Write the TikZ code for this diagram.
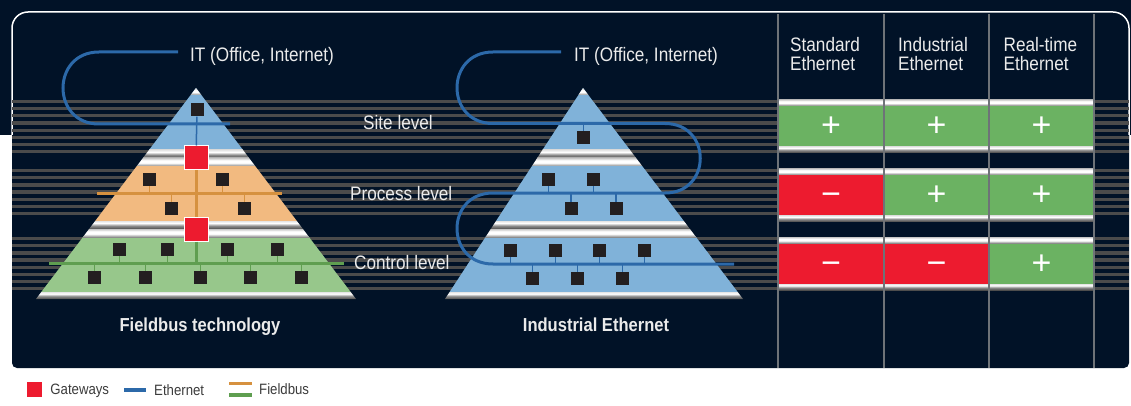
\documentclass[tikz,border=0pt]{standalone}
\usepackage{fontspec}
\setmainfont{Liberation Sans}[FakeStretch=0.88]
\newfontfamily\signfont{Liberation Sans}
\usetikzlibrary{positioning}
\definecolor{bgnavy}{HTML}{011227}
\definecolor{stripe}{HTML}{4B4B4B}
\definecolor{pyblue}{HTML}{80B2D9}
\definecolor{pyorange}{HTML}{F2BA80}
\definecolor{pygreen}{HTML}{97C78B}
\definecolor{cellgreen}{HTML}{6BB262}
\definecolor{cellred}{HTML}{ED1B2F}
\definecolor{ethblue}{HTML}{2C69A9}
\definecolor{busorange}{HTML}{D6913F}
\definecolor{busgreen}{HTML}{5F9E50}
\definecolor{devblack}{HTML}{231F20}
\definecolor{colgray}{HTML}{6E7378}
\definecolor{legcol}{HTML}{3C3C3C}
\pgfdeclareverticalshading{topbar}{100bp}{color(0bp)=(black!45); color(25bp)=(black!45); color(45bp)=(white); color(60bp)=(white); color(75bp)=(black!22); color(100bp)=(black!22)}
\pgfdeclareverticalshading{botbar}{100bp}{color(0bp)=(black!70); color(25bp)=(black!70); color(45bp)=(black!45); color(62bp)=(white); color(75bp)=(black!10); color(100bp)=(black!10)}

\begin{document}
\begin{tikzpicture}[x=1pt, y=-1pt, font=\fontsize{19.5}{19}\selectfont]
    \tikzstyle{dev}=[fill=devblack, minimum size=13pt, inner sep=0pt]
    \tikzstyle{gw}=[fill=cellred, draw=white, line width=1pt, minimum size=24pt, inner sep=0pt]
    \tikzstyle{lbl}=[text=white!92!black, inner sep=0pt]
    \tikzstyle{heading}=[lbl, font=\fontsize{18.8}{19}\selectfont\bfseries]
    \tikzstyle{tcell}=[minimum width=105pt, minimum height=53pt, inner sep=0pt, text=white, font=\signfont\fontsize{34}{34}\selectfont, text height=21pt, text depth=0pt]
    \tikzstyle{legtext}=[text=legcol, inner sep=0pt, text depth=0pt, font=\fontsize{15}{15}\selectfont]
    \tikzstyle{eth}=[draw=ethblue, line width=3pt]
    \tikzstyle{stem}=[line width=1.5pt]

    % frame and stripes
    \useasboundingbox (0,0) rectangle (1131,406);
    \path[fill=white] (0,0) rectangle (1131,406);
    \path[fill=bgnavy] (0,0) -- (1131,0) -- (1131,135) -- (0,135) -- cycle;
    \fill[bgnavy, rounded corners=5pt] (12,60) rectangle (1129,368);
    \draw[white, line width=1.5pt, fill=bgnavy, rounded corners=16pt] (12,135) -- (12,12) -- (1129,12) -- (1129,135);
    \foreach \y/\n in {100/7,169/6,237/7}
      \foreach \k in {0,...,\n} {
        \fill[stripe] (12,{\y+7.15*\k}) rectangle (778,{\y+7.15*\k+3.2});
        \fill[stripe] (1094,{\y+7.15*\k}) rectangle (1129,{\y+7.15*\k+3.2});
      }

    % comparison table
    \foreach \x/\y/\c/\s [count=\i] in {831/126/cellgreen/+, 936.5/126/cellgreen/+, 1041.5/126/cellgreen/+,
        831/195/cellred/−, 936.5/195/cellgreen/+, 1041.5/195/cellgreen/+,
        831/263.5/cellred/−, 936.5/263.5/cellred/−, 1041.5/263.5/cellgreen/+}
      \node[tcell, fill=\c] (c\i) at (\x,\y) {\s};
    \foreach \t/\b in {99.5/152.5,168.5/221.5,237/290} {
      \shade[shading=topbar] (778,\t) rectangle (1094,\t+6);
      \shade[shading=botbar] (778,\b-6) rectangle (1094,\b);
    }
    \foreach \x in {778,884,989,1094}
      \draw[colgray, line width=1.5pt] (\x,14) -- (\x,368);
    \node[lbl, anchor=north west, align=left] (h1) at (790,37.5) {Standard\\Ethernet};
    \node[lbl, anchor=north west, align=left] (h2) at (898,37.5) {Industrial\\Ethernet};
    \node[lbl, anchor=north west, align=left] (h3) at (1003.5,37.5) {Real-time\\Ethernet};

    % pyramids
    \foreach \ax/\lx/\rx/\ca/\cb/\cc in {196/36/356/pyblue/pyorange/pygreen, 583/445/743/pyblue/pyblue/pyblue} {
      \begin{scope}
        \clip (\ax,88) -- (\rx,299) -- (\lx,299) -- cycle;
        \fill[\ca] (\lx,88) rectangle (\rx,150);
        \fill[\cb] (\lx,166) rectangle (\rx,221);
        \fill[\cc] (\lx,236) rectangle (\rx,292);
        \shade[shading=topbar] (\lx,88) rectangle (\rx,95);
        \foreach \y in {150,221} {
          \shade[shading=botbar] (\lx,\y) rectangle (\rx,\y+8);
          \shade[shading=topbar] (\lx,\y+8) rectangle (\rx,\y+16);
        }
        \shade[shading=botbar] (\lx,292) rectangle (\rx,299);
      \end{scope}
    }

    \node[lbl, anchor=base west] (it1) at (190,62) {IT (Office, Internet)};
    \node[lbl, anchor=base west] (it2) at (574,62) {IT (Office, Internet)};
    \node[lbl, anchor=base west] (site) at (363,130) {Site level};
    \node[lbl, anchor=base west] (proc) at (350,200) {Process level};
    \node[lbl, anchor=base west] (ctrl) at (354,269) {Control level};

    % fieldbus technology
    \coordinate (e1) at (178,52);
    \coordinate (b1) at (230,124);
    \draw[eth] (e1) -- (99,52) .. controls (51,52) and (51,124) .. (99,124) -- (b1);
    \node[dev] (t1) at (197,110) {};
    \node[gw] (g1) at (196,158) {};
    \node[gw] (g2) at (196,229) {};
    \draw[ethblue, stem] (t1) -- (g1);
    \coordinate (ob) at (97,193);
    \draw[busorange, line width=3pt] (ob) -- (282,193);
    \draw[busorange, line width=3pt] (g1) -- (g2);
    \foreach \x [count=\i] in {149.5,222.5} {
      \node[dev] (ou\i) at (\x,179.5) {};
      \draw[busorange, stem] (ou\i) -- (ou\i |- ob);
    }
    \foreach \x [count=\i] in {171.5,244.5} {
      \node[dev] (ol\i) at (\x,208.5) {};
      \draw[busorange, stem] (ol\i) -- (ol\i |- ob);
    }
    \coordinate (gb) at (49,263.5);
    \draw[busgreen, line width=3.5pt] (gb) -- (344,263.5);
    \draw[busgreen, line width=3pt] (g2) -- (g2 |- gb);
    \foreach \x [count=\i] in {119.5,167.5,227.5,277.5} {
      \node[dev] (gu\i) at (\x,249.5) {};
      \draw[busgreen, stem] (gu\i) -- (gu\i |- gb);
    }
    \foreach \x [count=\i] in {94.5,145.5,200.5,250.5,301.5} {
      \node[dev] (gl\i) at (\x,277.5) {};
      \draw[busgreen, stem] (gl\i) -- (gl\i |- gb);
    }
    \node[heading, anchor=base] (ft) at (200,331) {Fieldbus technology};

    % industrial ethernet
    \coordinate (e2) at (561,52);
    \coordinate (l1) at (493,123.5);
    \coordinate (l2) at (493,193);
    \coordinate (l3) at (493,264);
    \coordinate (b2) at (734,264);
    \draw[eth] (e2) -- (493,52) .. controls (445,52) and (445,123.5) .. (l1) -- (665,123.5)
      .. controls (712,123.5) and (712,193) .. (665,193) -- (l2)
      .. controls (445,193) and (445,264) .. (l3) -- (b2);
    \node[dev] (t2) at (583.5,137.5) {};
    \draw[ethblue, stem] (t2) -- (t2 |- l1);
    \foreach \x [count=\i] in {548.5,593.5} {
      \node[dev] (bu\i) at (\x,179.5) {};
      \draw[ethblue, stem] (bu\i) -- (bu\i |- l2);
    }
    \foreach \x [count=\i] in {571,616} {
      \node[dev] (bl\i) at (\x,208.5) {};
      \draw[ethblue, stem] (bl\i) -- (bl\i |- l2);
    }
    \foreach \x [count=\i] in {510.5,555.5,599.5,644.5} {
      \node[dev] (cu\i) at (\x,250.5) {};
      \draw[ethblue, stem] (cu\i) -- (cu\i |- l3);
    }
    \foreach \x [count=\i] in {532.5,577.5,622.5} {
      \node[dev] (cl\i) at (\x,278.5) {};
      \draw[ethblue, stem] (cl\i) -- (cl\i |- l3);
    }
    \node[heading, anchor=base] (ie) at (596,331) {Industrial Ethernet};

    % legend
    \node[fill=cellred, minimum size=15pt, inner sep=0pt] (lg) at (34.5,389.5) {};
    \node[legtext, right=8pt of lg] (lgt) {Gateways};
    \coordinate (le) at (146,390);
    \draw[ethblue, line width=3.5pt] (124,390) -- (le);
    \node[legtext, right=8pt of le] (let) {Ethernet};
    \coordinate (lf) at (252,389.5);
    \draw[busorange, line width=3.5pt] (229,383.5) -- (252,383.5);
    \draw[busgreen, line width=3.5pt] (229,395) -- (252,395);
    \node[legtext, right=7pt of lf] (lft) {Fieldbus};
\end{tikzpicture}
\end{document}
